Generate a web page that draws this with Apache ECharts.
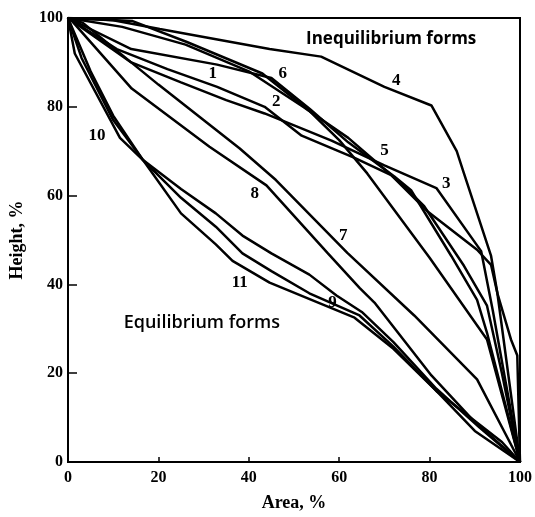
<!DOCTYPE html>
<html>
<head>
<meta charset="utf-8">
<script src="https://cdn.jsdelivr.net/npm/echarts@6/dist/echarts.min.js"></script>
<style>html,body{margin:0;padding:0;background:#fff}#c{width:535px;height:517px}</style>
</head>
<body>
<div id="c"></div>
<script>
// ---- data (Area %, Height %) ----
const xTicks = [0, 20, 40, 60, 80, 100];
const yTicks = [0, 20, 40, 60, 80, 100];
const curveNames = ['1','2','3','4','5','6','7','8','9','10','11'];
const curve1 = [[0,100],[14,93],[33,89.5],[45,86.5],[53.5,79.5],[62,72],[72.2,64.3],[75.9,61.2],[84.8,46.4],[90.5,36.5],[92.7,29.1],[97,12],[100,0]];
const curve2 = [[0,100],[10.8,93],[22,88.5],[33,84.5],[43.5,80],[51.7,73.5],[63.4,68.5],[71.5,64.6],[79.5,56.5],[90.5,47.8],[93.6,44.4],[95,38],[100,0]];
const curve3 = [[0,100],[14,90],[25,85.5],[35,81.5],[43.5,78.5],[58.3,72.4],[70,66.8],[81.5,61.7],[91.4,47.5],[94,34],[97,17],[100,0]];
const curve4 = [[0,100],[10,99.5],[20.3,97.5],[44.6,93],[56,91.3],[70,84.5],[80.4,80.3],[86,70],[87.6,65],[93.6,46.4],[95,38],[98,27.6],[99.4,24],[100,0]];
const curve5 = [[0,100],[12,98],[26,94],[40,88],[52,80],[62,73],[74.4,62.1],[78.8,57.6],[87.6,44.2],[92.7,35.2],[96,20],[100,0]];
const curve6 = [[0,100],[14.3,99.3],[26.3,94.6],[43,87.5],[53.5,79],[60,72.5],[66.2,65],[80,46],[92.7,27.6],[100,0]];
const curve7 = [[0,100],[3.3,98.9],[20,85],[38,70.6],[46,63.5],[61.8,47.1],[76.6,33],[90.5,18.6],[99.1,1.8],[100,0]];
const curve8 = [[0,100],[0.9,99.3],[14.1,84.1],[31.3,71],[43.9,62.3],[57.4,47.1],[64.5,39.2],[67.8,35.9],[80.4,19.5],[90,9],[100,0]];
const curve9 = [[0,100],[3,91],[10,77],[16.6,68],[25,61.5],[32.7,56],[38.6,51],[45,47],[53.4,42.2],[59.4,37.5],[65,33.8],[72,27],[81.5,16.5],[91,7.8],[100,0]];
const curve10 = [[0,100],[1.5,92],[11.5,73],[16.6,68],[25,59.5],[32.7,53],[38.6,47],[45,43],[53.4,38],[64.5,33],[72,26],[81.5,16],[90,7],[100,0]];
const curve11 = [[0,100],[5,88],[10,78],[16.6,68],[25,56],[32.7,49],[36.4,45.3],[44.6,40.4],[63.4,32.5],[72,25.5],[81.5,16],[96,4.5],[100,0]];
const curves = [curve1,curve2,curve3,curve4,curve5,curve6,curve7,curve8,curve9,curve10,curve11];
// curve-number label anchors (data coords)
const labelAt = [[32,87.4],[46.1,81.2],[83.7,62.8],[72.6,85.9],[70,70.2],[47.5,87.4],[60.9,51.1],[41.3,60.5],[58.5,35.9],[6.4,73.5],[38,40.4]];
const groupLabels = ['Inequilibrium forms','Equilibrium forms'];
const groupAt = [[71.5,95.3],[29.6,31.4]];

const chart = echarts.init(document.getElementById('c'), null, {renderer:'canvas'});
const serif = '"Liberation Serif", "DejaVu Serif", serif';
const tickLabel = {color:'#000', fontFamily:serif, fontWeight:'bold', fontSize:16};
chart.setOption({
  animation:false,
  backgroundColor:'#fff',
  grid:{left:68, right:14, top:18, bottom:52, show:true, borderColor:'#000', borderWidth:2, backgroundColor:'transparent'},
  xAxis:{type:'value', min:0, max:100, interval:20,
    axisLine:{show:true, lineStyle:{color:'#000', width:2}},
    axisTick:{show:true, inside:true, length:5, lineStyle:{color:'#000', width:1.5}},
    splitLine:{show:false},
    axisLabel:Object.assign({margin:8}, tickLabel),
    name:'Area, %', nameLocation:'middle', nameGap:32,
    nameTextStyle:{color:'#000', fontFamily:serif, fontWeight:'bold', fontSize:18}},
  yAxis:{type:'value', min:0, max:100, interval:20,
    axisLine:{show:true, lineStyle:{color:'#000', width:2}},
    axisTick:{show:true, inside:true, length:9, lineStyle:{color:'#000', width:1.5}},
    splitLine:{show:false},
    axisLabel:Object.assign({margin:5}, tickLabel),
    name:'Height, %', nameLocation:'middle', nameGap:42,
    nameTextStyle:{color:'#000', fontFamily:serif, fontWeight:'bold', fontSize:18}},
  series: curves.map((d,i)=>({
    type:'line', name:curveNames[i], data:d, showSymbol:false, symbol:'none',
    lineStyle:{color:'#000', width:2.5}, z:2
  }))
});

function place(){
  const g = [];
  labelAt.forEach((p,i)=>{
    const px = chart.convertToPixel({gridIndex:0}, p);
    g.push({type:'text', x:px[0], y:px[1], style:{text:curveNames[i], fill:'#000',
      font:'bold 17px ' + serif, textAlign:'center', textVerticalAlign:'middle'}});
  });
  groupAt.forEach((p,i)=>{
    const px = chart.convertToPixel({gridIndex:0}, p);
    g.push({type:'text', x:px[0], y:px[1], style:{text:groupLabels[i], fill:'#000',
      font:(i===0?'bold 17px ':'600 18px ')+'"Open Sans", Lato, sans-serif', textAlign:'center', textVerticalAlign:'middle'}});
  });
  chart.setOption({graphic:g});
}
place();
</script>
</body>
</html>
